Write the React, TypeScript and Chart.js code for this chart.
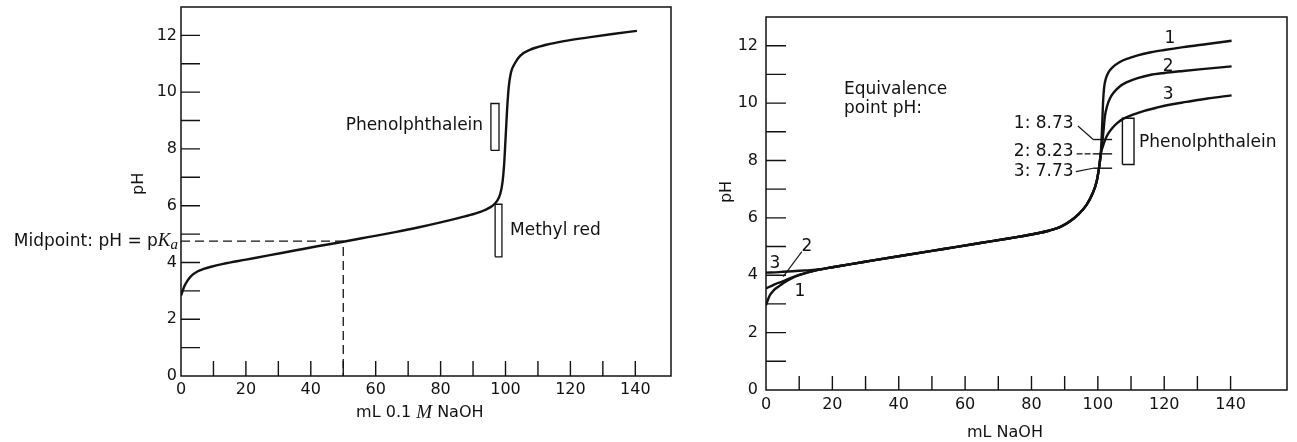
import React, { useEffect, useRef } from "react";
import { Chart, registerables } from "chart.js";

Chart.register(...registerables);

const SANS = '"DejaVu Sans", "Liberation Sans", sans-serif';
const SERIF = '"Liberation Serif", "DejaVu Serif", serif';
const INK = "#121212";

// ---------------- Shared axis ticks ----------------
const X_TICKS = [0, 10, 20, 30, 40, 50, 60, 70, 80, 90, 100, 110, 120, 130, 140];
const Y_TICKS = [0, 1, 2, 3, 4, 5, 6, 7, 8, 9, 10, 11, 12];

// ---------------- Left panel data ----------------
const LEFT_ML = [0, 1, 2, 3.5, 5.2, 7, 9, 13, 20, 27, 35, 42, 50, 58, 66, 73, 80, 86, 90.6, 93.5, 95.8, 97.3, 98.4, 99.1, 99.6, 100.1, 100.5, 101, 101.7, 102.9, 104.5, 107.5, 112.6, 118, 125.6, 133, 140.5];
const LEFT_PH = [2.83, 3.15, 3.36, 3.56, 3.69, 3.77, 3.84, 3.95, 4.1, 4.25, 4.42, 4.57, 4.73, 4.9, 5.07, 5.23, 5.41, 5.58, 5.72, 5.84, 5.98, 6.15, 6.42, 6.85, 7.5, 8.55, 9.4, 10.19, 10.7, 11.02, 11.28, 11.49, 11.67, 11.8, 11.93, 12.05, 12.16];
const MIDPOINT_ML = [0, 50, 50];
const MIDPOINT_PH = [4.75, 4.75, 0];
const LEFT_PHENOL_ML = [95.5, 98];
const LEFT_PHENOL_PH = [7.95, 9.6];
const METHYL_RED_ML = [96.8, 98.9];
const METHYL_RED_PH = [4.2, 6.05];

// ---------------- Right panel data ----------------
const START_ML_1 = [0, 0.5, 1.2, 2.3, 3.7, 5.5, 7.7, 10, 12.7, 16];
const START_PH_1 = [2.96, 3.12, 3.31, 3.47, 3.6, 3.75, 3.89, 4.0, 4.1, 4.2];
const START_ML_2 = [0, 1.5, 3, 4.7, 7, 9.7, 12.5, 16];
const START_PH_2 = [3.54, 3.62, 3.7, 3.77, 3.88, 4.0, 4.1, 4.2];
const START_ML_3 = [0, 4, 8, 12, 16];
const START_PH_3 = [4.09, 4.11, 4.14, 4.17, 4.2];
const BUFFER_ML = [20, 29.4, 40.4, 50, 57, 65, 73.5, 80, 85.5, 89, 91.6, 94.3, 96.6, 98.3, 99.6, 100.3, 100.9];
const BUFFER_PH = [4.28, 4.46, 4.67, 4.85, 4.98, 5.13, 5.29, 5.42, 5.56, 5.7, 5.88, 6.14, 6.45, 6.82, 7.25, 7.7, 8.25];
const END_ML_1 = [101.3, 101.6, 101.9, 102.4, 103.2, 104.5, 106.5, 109, 112, 116, 120, 125.7, 133, 140.3];
const END_PH_1 = [9.2, 10.1, 10.55, 10.85, 11.07, 11.25, 11.42, 11.55, 11.66, 11.77, 11.85, 11.95, 12.06, 12.17];
const END_ML_2 = [101.4, 101.8, 102.1, 102.8, 103.6, 104.6, 106.5, 108.6, 112, 115.7, 120, 125.7, 133, 140.3];
const END_PH_2 = [8.7, 9.15, 9.52, 9.9, 10.15, 10.34, 10.57, 10.72, 10.87, 10.98, 11.05, 11.12, 11.2, 11.28];
const END_ML_3 = [101.4, 102.2, 103.2, 104.5, 106, 107.6, 110.6, 114, 117.7, 122, 126.7, 133, 140.3];
const END_PH_3 = [8.45, 8.72, 8.95, 9.15, 9.32, 9.45, 9.6, 9.73, 9.84, 9.95, 10.04, 10.16, 10.27];

const EQ_PH = [8.73, 8.23, 7.73];
const EQ_SEG_ML = [98.6, 104.3];
const EQ_LABEL_ML = 92.7;
const EQ_LABEL_PH = [9.27, 8.3, 7.61];
const EQ_LEADER_START_ML = [94.0, 93.6, 93.4];
const EQ_LEADER_START_PH = [9.2, 8.23, 7.61];
const RIGHT_PHENOL_ML = [107.4, 110.9];
const RIGHT_PHENOL_PH = [7.86, 9.47];
const CURVE_LABEL_END_ML = [121.7, 121.2, 121.2];
const CURVE_LABEL_END_PH = [12.25, 11.27, 10.28];
const CURVE_LABEL_START_ML = [10.2, 12.3, 2.7];
const CURVE_LABEL_START_PH = [3.42, 4.99, 4.41];
const LABEL2_LEADER_ML = [10.8, 5.2];
const LABEL2_LEADER_PH = [4.82, 3.95];

type Pt = { x: number; y: number };
const pts = (ml: number[], ph: number[]): Pt[] => ml.map((x, i) => ({ x, y: ph[i] }));
const rect = (ml: number[], ph: number[]): Pt[] => [
  { x: ml[0], y: ph[0] },
  { x: ml[1], y: ph[0] },
  { x: ml[1], y: ph[1] },
  { x: ml[0], y: ph[1] },
  { x: ml[0], y: ph[0] },
];

const curve = (data: Pt[], w = 2.4) => ({
  data,
  borderColor: INK,
  borderWidth: w,
  pointRadius: 0,
  fill: false,
  cubicInterpolationMode: "monotone" as const,
});
const straight = (data: Pt[], w = 1.4, dash: number[] = []) => ({
  data,
  borderColor: INK,
  borderWidth: w,
  borderDash: dash,
  pointRadius: 0,
  fill: false,
  tension: 0,
});

function textAt(ctx: CanvasRenderingContext2D, s: string, x: number, y: number, font: string, align: CanvasTextAlign = "left") {
  ctx.font = font;
  ctx.textAlign = align;
  ctx.textBaseline = "middle";
  ctx.fillStyle = INK;
  ctx.fillText(s, x, y);
}

function frameAndTicks(chart: any, yLen: number, xLen: number) {
  const ctx = chart.ctx as CanvasRenderingContext2D;
  const { left, right, top, bottom } = chart.chartArea;
  const xs = chart.scales.x;
  const ys = chart.scales.y;
  ctx.save();
  ctx.strokeStyle = INK;
  ctx.lineWidth = 1.5;
  ctx.strokeRect(left, top, right - left, bottom - top);
  ctx.lineWidth = 1.4;
  ctx.beginPath();
  Y_TICKS.forEach((v) => {
    if (v === 0) return;
    const y = ys.getPixelForValue(v);
    ctx.moveTo(left, y);
    ctx.lineTo(left + yLen, y);
  });
  X_TICKS.forEach((v) => {
    if (v === 0) return;
    const x = xs.getPixelForValue(v);
    ctx.moveTo(x, bottom);
    ctx.lineTo(x, bottom - xLen);
  });
  ctx.stroke();
  ctx.restore();
}

function baseOptions(xMax: number, pad: any, yWidth: number, xHeight: number, xPad: number, yPad: number) {
  return {
    responsive: false,
    animation: false as const,
    devicePixelRatio: 1,
    layout: { padding: pad },
    plugins: { legend: { display: false }, tooltip: { enabled: false } },
    scales: {
      x: {
        type: "linear" as const,
        min: 0,
        max: xMax,
        afterFit: (s: any) => {
          s.height = xHeight;
          s.paddingLeft = 0;
          s.paddingRight = 0;
          s.paddingTop = 0;
          s.paddingBottom = 0;
        },
        afterBuildTicks: (s: any) => {
          s.ticks = X_TICKS.map((v) => ({ value: v }));
        },
        grid: { display: false, drawTicks: false },
        border: { display: false },
        ticks: {
          padding: xPad,
          color: INK,
          autoSkip: false,
          maxRotation: 0,
          font: { family: SANS, size: 16 },
          callback: (v: any) => (Number(v) % 20 === 0 ? String(v) : ""),
        },
      },
      y: {
        type: "linear" as const,
        min: 0,
        max: 13,
        afterFit: (s: any) => {
          s.width = yWidth;
          s.paddingLeft = 0;
          s.paddingRight = 0;
          s.paddingTop = 0;
          s.paddingBottom = 0;
        },
        afterBuildTicks: (s: any) => {
          s.ticks = Y_TICKS.map((v) => ({ value: v }));
        },
        grid: { display: false, drawTicks: false },
        border: { display: false },
        ticks: {
          padding: yPad,
          color: INK,
          autoSkip: false,
          font: { family: SANS, size: 16 },
          callback: (v: any) => (Number(v) % 2 === 0 ? String(v) : ""),
        },
      },
    },
  };
}

function LeftPanel() {
  const ref = useRef<HTMLCanvasElement>(null);
  useEffect(() => {
    if (!ref.current) return;
    const decor = {
      id: "leftDecor",
      afterDraw(chart: any) {
        const ctx = chart.ctx as CanvasRenderingContext2D;
        const xs = chart.scales.x;
        const ys = chart.scales.y;
        const { left, bottom } = chart.chartArea;
        frameAndTicks(chart, 19, 15);
        ctx.save();
        ctx.save();
        ctx.translate(left - 42, ys.getPixelForValue(6.77));
        ctx.rotate(-Math.PI / 2);
        textAt(ctx, "pH", 0, 0, `16px ${SANS}`, "center");
        ctx.restore();
        {
          const parts: [string, string][] = [
            ["mL 0.1 ", `16px ${SANS}`],
            ["M", `italic 19px ${SERIF}`],
            [" NaOH", `16px ${SANS}`],
          ];
          let total = 0;
          parts.forEach(([s, f]) => {
            ctx.font = f;
            total += ctx.measureText(s).width;
          });
          let x = xs.getPixelForValue(73.6) - total / 2;
          const y = bottom + 37;
          parts.forEach(([s, f]) => {
            textAt(ctx, s, x, y, f, "left");
            ctx.font = f;
            x += ctx.measureText(s).width;
          });
        }
        {
          const y = ys.getPixelForValue(MIDPOINT_PH[0]);
          const parts: [string, string, number][] = [
            ["Midpoint: pH = p", `17px ${SANS}`, 0],
            ["K", `italic 19px ${SERIF}`, 0],
            ["a", `italic 15px ${SERIF}`, 4],
          ];
          let total = 0;
          parts.forEach(([s, f]) => {
            ctx.font = f;
            total += ctx.measureText(s).width;
          });
          let x = left - 3 - total;
          parts.forEach(([s, f, dy]) => {
            textAt(ctx, s, x, y + dy, f, "left");
            ctx.font = f;
            x += ctx.measureText(s).width;
          });
        }
        textAt(ctx, "Phenolphthalein", xs.getPixelForValue(93.1), ys.getPixelForValue(8.84), `17px ${SANS}`, "right");
        textAt(ctx, "Methyl red", xs.getPixelForValue(101.4), ys.getPixelForValue(5.14), `17px ${SANS}`, "left");
        ctx.restore();
      },
    };
    const chart = new Chart(ref.current, {
      type: "line",
      data: {
        datasets: [
          curve(pts(LEFT_ML, LEFT_PH), 2.4),
          straight(pts(MIDPOINT_ML, MIDPOINT_PH), 1.3, [9, 5]),
          straight(rect(LEFT_PHENOL_ML, LEFT_PHENOL_PH), 1.3),
          straight(rect(METHYL_RED_ML, METHYL_RED_PH), 1.3),
        ] as any,
      },
      options: baseOptions(151, { left: 0, right: 19, top: 7, bottom: 0 }, 181, 66, 4, 4) as any,
      plugins: [decor],
    });
    return () => chart.destroy();
  }, []);
  return <canvas ref={ref} width={690} height={442} style={{ position: "absolute", left: 0, top: 0 }} />;
}

function RightPanel() {
  const ref = useRef<HTMLCanvasElement>(null);
  useEffect(() => {
    if (!ref.current) return;
    const decor = {
      id: "rightDecor",
      afterDraw(chart: any) {
        const ctx = chart.ctx as CanvasRenderingContext2D;
        const xs = chart.scales.x;
        const ys = chart.scales.y;
        const { left, bottom } = chart.chartArea;
        frameAndTicks(chart, 20, 14);
        ctx.save();
        ctx.save();
        ctx.translate(left - 39, ys.getPixelForValue(6.9));
        ctx.rotate(-Math.PI / 2);
        textAt(ctx, "pH", 0, 0, `16px ${SANS}`, "center");
        ctx.restore();
        textAt(ctx, "mL NaOH", xs.getPixelForValue(72), bottom + 43, `16px ${SANS}`, "center");
        const F = `17px ${SANS}`;
        textAt(ctx, "Equivalence", xs.getPixelForValue(23.5), ys.getPixelForValue(10.48), F);
        textAt(ctx, "point pH:", xs.getPixelForValue(23.5), ys.getPixelForValue(9.81), F);
        EQ_PH.forEach((v, i) => {
          textAt(ctx, `${i + 1}: ${v.toFixed(2)}`, xs.getPixelForValue(EQ_LABEL_ML), ys.getPixelForValue(EQ_LABEL_PH[i]), F, "right");
        });
        textAt(ctx, "Phenolphthalein", xs.getPixelForValue(RIGHT_PHENOL_ML[1] + 1.5), ys.getPixelForValue(8.62), F);
        CURVE_LABEL_END_ML.forEach((m, i) => {
          textAt(ctx, String(i + 1), xs.getPixelForValue(m), ys.getPixelForValue(CURVE_LABEL_END_PH[i]), F, "center");
        });
        CURVE_LABEL_START_ML.forEach((m, i) => {
          textAt(ctx, String(i + 1), xs.getPixelForValue(m), ys.getPixelForValue(CURVE_LABEL_START_PH[i]), F, "center");
        });
        ctx.restore();
      },
    };
    const datasets: any[] = [
      curve(pts([...START_ML_1, ...BUFFER_ML, ...END_ML_1], [...START_PH_1, ...BUFFER_PH, ...END_PH_1])),
      curve(pts([...START_ML_2, ...BUFFER_ML, ...END_ML_2], [...START_PH_2, ...BUFFER_PH, ...END_PH_2])),
      curve(pts([...START_ML_3, ...BUFFER_ML, ...END_ML_3], [...START_PH_3, ...BUFFER_PH, ...END_PH_3])),
      straight(rect(RIGHT_PHENOL_ML, RIGHT_PHENOL_PH), 1.4),
      straight(pts(LABEL2_LEADER_ML, LABEL2_LEADER_PH), 1.1),
    ];
    EQ_PH.forEach((v, i) => {
      datasets.push(straight(pts(EQ_SEG_ML, [v, v]), 1.4));
      datasets.push(
        straight(
          pts([EQ_LEADER_START_ML[i], EQ_SEG_ML[0]], [EQ_LEADER_START_PH[i], v]),
          1.1,
          i === 1 ? [6, 2] : []
        )
      );
    });
    const chart = new Chart(ref.current, {
      type: "line",
      data: { datasets },
      options: baseOptions(157, { left: 0, right: 10, top: 17, bottom: 0 }, 76, 52, 5, 8) as any,
      plugins: [decor],
    });
    return () => chart.destroy();
  }, []);
  return <canvas ref={ref} width={607} height={442} style={{ position: "absolute", left: 690, top: 0 }} />;
}

export default function App() {
  return (
    <div style={{ position: "absolute", left: 0, top: 0, width: 1297, height: 442, background: "#fff", overflow: "hidden" }}>
      <LeftPanel />
      <RightPanel />
    </div>
  );
}
